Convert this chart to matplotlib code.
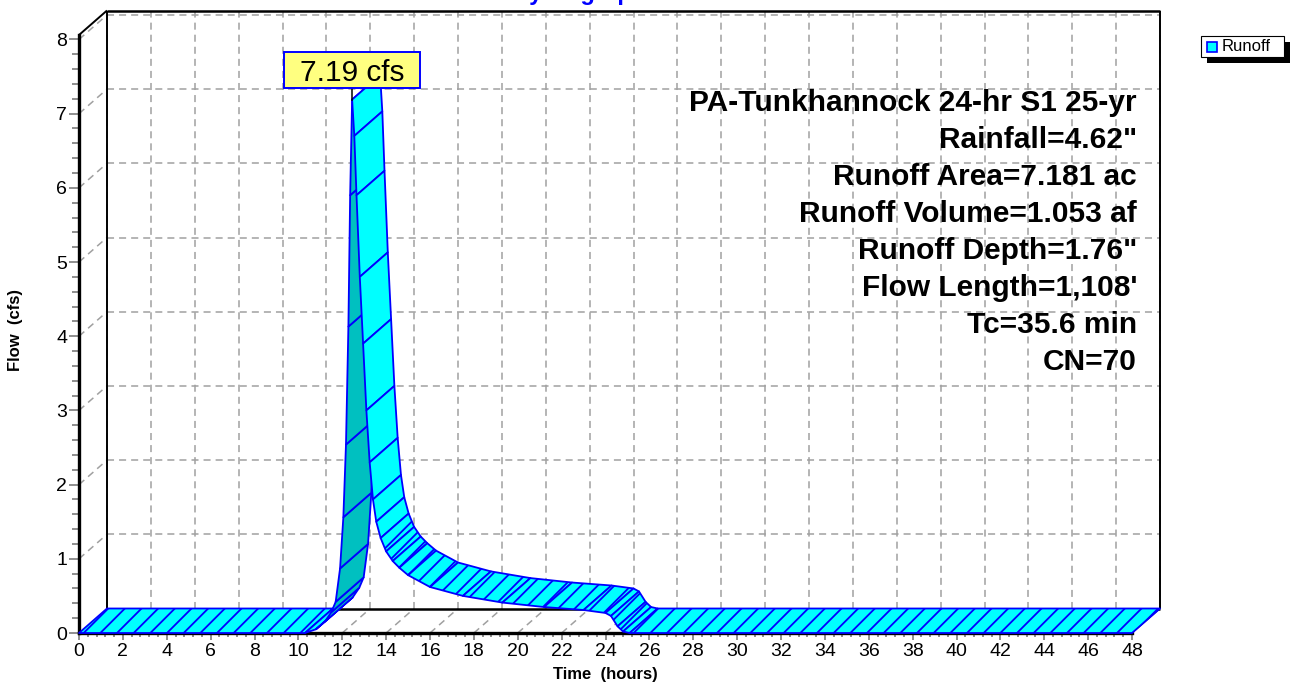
import matplotlib
matplotlib.use("Agg")
import matplotlib.pyplot as plt
from matplotlib.patches import Polygon, Rectangle
from matplotlib.ticker import MultipleLocator
import numpy as np

plt.rcParams['font.family'] = ['Liberation Sans', 'DejaVu Sans']
plt.rcParams['hatch.color'] = '#0000ff'
plt.rcParams['hatch.linewidth'] = 1.3

# runoff hydrograph
time_hr = [0, 10.3, 10.8, 11.2, 11.5, 11.7, 11.9, 12.05, 12.17, 12.28, 12.36,
           12.45, 12.55, 12.65, 12.8, 12.95, 13.1, 13.25, 13.4, 13.55, 13.75,
           14.0, 14.3, 14.6, 15.0, 16.0, 17.5, 19.3, 21.2, 23.0, 24.0, 24.25,
           24.55, 24.8, 25.1, 48]
flow_cfs = [0, 0, 0.05, 0.15, 0.28, 0.42, 0.87, 1.56, 2.54, 4.13, 5.9,
            7.19, 6.7, 5.9, 4.8, 3.9, 3.0, 2.3, 1.8, 1.5, 1.28,
            1.1, 0.97, 0.88, 0.78, 0.62, 0.5, 0.41, 0.35, 0.31, 0.27, 0.23,
            0.09, 0.02, 0, 0]

x_ticks = list(range(0, 49, 2))
y_ticks = list(range(0, 9))
peak_time = 12.45
peak_flow = 7.19
peak_label = "7.19 cfs"
series_name = "Runoff"
info_lines = ["PA-Tunkhannock 24-hr S1 25-yr", 'Rainfall=4.62"',
              "Runoff Area=7.181 ac", "Runoff Volume=1.053 af",
              'Runoff Depth=1.76"', "Flow Length=1,108'", "Tc=35.6 min", "CN=70"]

W, H = 1294, 684
fig = plt.figure(figsize=(W / 100, H / 100), dpi=100)

# front plane of the 3d box in pixels
left, right, bottom, top = 79, 1132, 633, 35
XMAX, YMAX = 48, 8.06
ax = fig.add_axes([left / W, 1 - bottom / H, (right - left) / W, (bottom - top) / H])
ax.set_xlim(0, XMAX)
ax.set_ylim(0, YMAX)
sx = (right - left) / XMAX   # px per hour
sy = (bottom - top) / YMAX   # px per cfs
DXP, DYP = 28, 24.5          # depth offset in px
DX, DY = DXP / sx, DYP / sy

for s in ['top', 'right']:
    ax.spines[s].set_visible(False)
for s in ['left', 'bottom']:
    ax.spines[s].set_linewidth(2.4)
    ax.spines[s].set_zorder(2.5)

ax.set_xticks(x_ticks)
ax.set_xticklabels([str(v) for v in x_ticks])
ax.set_yticks(y_ticks)
ax.set_yticklabels([str(v) for v in y_ticks])
ax.xaxis.set_minor_locator(MultipleLocator(0.4))
ax.yaxis.set_minor_locator(MultipleLocator(0.2))
ax.tick_params(axis='both', which='both', direction='out', color='#707070', width=1.1, labelsize=14)
ax.tick_params(axis='x', which='major', length=5, pad=2)
ax.tick_params(axis='x', which='minor', length=3)
ax.tick_params(axis='y', which='major', length=7.5, pad=1)
ax.tick_params(axis='y', which='minor', length=5)

# grid on back wall, side wall and floor
grid = dict(color='#a0a0a0', lw=1.1, ls=(0, (4.6, 3.3)), clip_on=False, zorder=1)
for h in x_ticks:
    ax.plot([h + DX, h + DX], [DY, YMAX + DY], **grid)
    if 0 < h < XMAX:
        ax.plot([h, h + DX], [0, DY], **grid)
for k in y_ticks[1:]:
    ax.plot([DX, XMAX + DX], [k + DY, k + DY], **grid)
    ax.plot([0, DX], [k, k + DY], **grid)

# box frame
frame = dict(color='black', clip_on=False, zorder=2, solid_capstyle='butt')
ax.plot([DX, DX], [DY, YMAX + DY], lw=1.4, **frame)
ax.plot([DX, XMAX + DX], [YMAX + DY] * 2, lw=1.8, **frame)
ax.plot([XMAX + DX] * 2, [DY, YMAX + DY], lw=1.4, **frame)
ax.plot([DX, XMAX + DX], [DY, DY], lw=1.8, **frame)
ax.plot([0, DX], [YMAX, YMAX + DY], lw=1.4, **frame)
ax.plot([XMAX, XMAX + DX], [0, DY], lw=0.9, **frame)

# ribbon, drawn left to right
for i in range(len(time_hr) - 1):
    x0, x1 = time_hr[i], time_hr[i + 1]
    y0, y1 = flow_cfs[i], flow_cfs[i + 1]
    dxp, dyp = (x1 - x0) * sx, (y1 - y0) * sy
    under = dxp * DYP - dyp * DXP < 0
    flat = (not under) and abs(dyp) < 3 * dxp
    quad = [(x0, y0), (x1, y1), (x1 + DX, y1 + DY), (x0 + DX, y0 + DY)]
    ax.add_patch(Polygon(quad, closed=True, fc='#00c0c0' if under else '#00ffff',
                         ec='#0000ff', lw=1.3, hatch='//' if flat else None,
                         joinstyle='round', clip_on=False, zorder=3 + i * 0.001))

# peak label
box_bottom = (bottom - 88) / sy
box_top = (bottom - 52) / sy
box_w = 136 / sx
ax.plot([peak_time, peak_time], [peak_flow, box_bottom], color='black', lw=1.1,
        clip_on=False, zorder=5)
ax.add_patch(Rectangle((peak_time - box_w / 2, box_bottom), box_w, box_top - box_bottom,
                       fc='#ffff80', ec='#0000ff', lw=1.4, clip_on=False, zorder=6))
ax.text(peak_time, (box_bottom + box_top) / 2, peak_label, ha='center', va='center_baseline',
        fontsize=21.5, zorder=7)

# info text
for i, line in enumerate(info_lines):
    fig.text(1137 / W, 1 - (103 + 37 * i) / H, line, ha='right', va='center',
             fontsize=21.5, fontweight='bold')

# axis titles
fig.text(605 / W, 1 - 675 / H, "Time  (hours)", ha='center', va='center',
         fontsize=12, fontweight='bold')
fig.text(16 / W, 1 - 330 / H, "Flow  (cfs)", ha='center', va='center', rotation=90,
         fontsize=12, fontweight='bold')
# chart title, clipped by the top edge as in the original
fig.text(580 / W, 1.0, "Hydrograph", ha='center', va='baseline', color='#0000ff',
         fontsize=17, fontweight='bold')

# legend
lx0, ly0, lw_, lh_ = 1201, 36, 83, 21
fig.patches.append(Rectangle(((lx0 + 6) / W, 1 - (ly0 + lh_ + 6) / H), lw_ / W, lh_ / H,
                             transform=fig.transFigure, fc='black', ec='none'))
fig.patches.append(Rectangle((lx0 / W, 1 - (ly0 + lh_) / H), lw_ / W, lh_ / H,
                             transform=fig.transFigure, fc='white', ec='black', lw=0.8))
fig.patches.append(Rectangle(((lx0 + 6) / W, 1 - (ly0 + 15.5) / H), 10 / W, 10 / H,
                             transform=fig.transFigure, fc='#00ffff', ec='#0000ff', lw=1.2))
fig.text((lx0 + 21) / W, 1 - (ly0 + 10.5) / H, series_name, ha='left', va='center', fontsize=12)

fig.savefig('out.png', dpi=100)
